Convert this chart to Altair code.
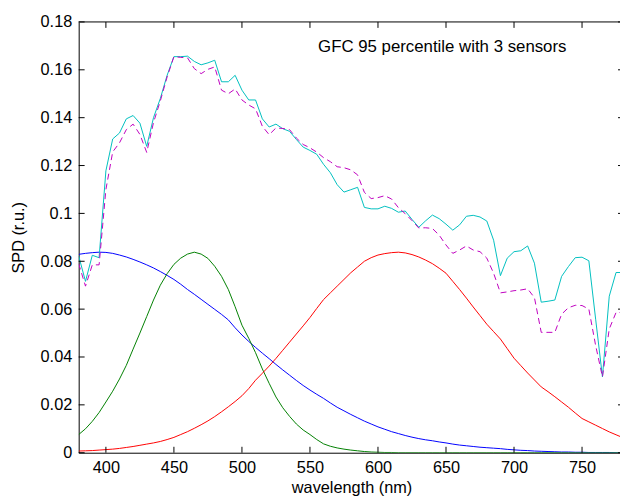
import altair as alt
import pandas as pd

# ---- data ----
wl5 = list(range(380, 781, 5))
cyan_spd = [0.0822, 0.0716, 0.0825, 0.0815, 0.1178, 0.1311, 0.1336, 0.1395, 0.1409, 0.1377,
            0.1280, 0.1400, 0.1480, 0.1577, 0.1655, 0.1655, 0.1657, 0.1635, 0.1621, 0.1629,
            0.1640, 0.1550, 0.1550, 0.1577, 0.1515, 0.1474, 0.1474, 0.1395, 0.1361, 0.1373,
            0.1354, 0.1343, 0.1309, 0.1277, 0.1263, 0.1247, 0.1205, 0.1170, 0.1120, 0.1089,
            0.1099, 0.1109, 0.1025, 0.1019, 0.1019, 0.1030, 0.1021, 0.1005, 0.1010, 0.0975,
            0.0942, 0.0969, 0.0993, 0.0978, 0.0955, 0.0930, 0.0952, 0.0988, 0.0992, 0.0985,
            0.0968, 0.0888, 0.0740, 0.0813, 0.0840, 0.0844, 0.0864, 0.0792, 0.0629, 0.0633,
            0.0638, 0.0737, 0.0778, 0.0815, 0.0817, 0.0802, 0.0558, 0.0317, 0.0654, 0.0753,
            0.0753]
magenta_spd = [0.0790, 0.0696, 0.0785, 0.0785, 0.1100, 0.1257, 0.1295, 0.1350, 0.1373, 0.1330,
               0.1255, 0.1380, 0.1470, 0.1570, 0.1655, 0.1652, 0.1650, 0.1605, 0.1584, 0.1602,
               0.1612, 0.1515, 0.1500, 0.1520, 0.1474, 0.1453, 0.1437, 0.1364, 0.1329, 0.1357,
               0.1355, 0.1350, 0.1315, 0.1288, 0.1274, 0.1256, 0.1233, 0.1216, 0.1195, 0.1191,
               0.1182, 0.1161, 0.1088, 0.1062, 0.1066, 0.1074, 0.1060, 0.1024, 0.0999, 0.0970,
               0.0939, 0.0940, 0.0937, 0.0909, 0.0868, 0.0833, 0.0847, 0.0864, 0.0847, 0.0840,
               0.0813, 0.0750, 0.0668, 0.0672, 0.0677, 0.0680, 0.0685, 0.0648, 0.0503, 0.0503,
               0.0503, 0.0579, 0.0606, 0.0616, 0.0615, 0.0600, 0.0448, 0.0317, 0.0517, 0.0586,
               0.0586]

# sensor sensitivities (scaled), read at 5 nm
blue_sens = [0.0829, 0.0833, 0.0836, 0.0838, 0.0837, 0.0833, 0.0826, 0.0818, 0.0808, 0.0797,
             0.0785, 0.0772, 0.0757, 0.0741, 0.0724, 0.0704, 0.0682, 0.0662, 0.0641, 0.0620,
             0.0599, 0.0578, 0.0555, 0.0522, 0.0492, 0.0465, 0.0440, 0.0416, 0.0393, 0.0369,
             0.0346, 0.0324, 0.0302, 0.0281, 0.0262, 0.0244, 0.0227, 0.0208, 0.0190, 0.0175,
             0.0160, 0.0146, 0.0132, 0.0120, 0.0108, 0.0098, 0.0088, 0.0080, 0.0072, 0.0065,
             0.0059, 0.0054, 0.0050, 0.0045, 0.0041, 0.0036, 0.0032, 0.0029, 0.0026, 0.0023,
             0.0021, 0.0019, 0.0017, 0.0014, 0.0012, 0.0010, 0.0009, 0.0007, 0.0006, 0.0005,
             0.0004, 0.0003, 0.0003, 0.0002, 0.0002, 0.0001, 0.0001, 0.0001, 0.0001, 0.0000,
             0.0000]
green_sens = [0.0076, 0.0100, 0.0131, 0.0168, 0.0212, 0.0257, 0.0308, 0.0365, 0.0433, 0.0500,
              0.0569, 0.0638, 0.0700, 0.0748, 0.0787, 0.0813, 0.0830, 0.0838, 0.0830, 0.0812,
              0.0779, 0.0737, 0.0682, 0.0610, 0.0533, 0.0478, 0.0418, 0.0350, 0.0290, 0.0233,
              0.0188, 0.0152, 0.0120, 0.0095, 0.0076, 0.0055, 0.0037, 0.0027, 0.0020, 0.0015,
              0.0011, 0.0008, 0.0005, 0.0003, 0.0002, 0.0001, 0.0001, 0.0, 0.0, 0.0,
              0.0, 0.0, 0.0, 0.0, 0.0, 0.0, 0.0, 0.0, 0.0, 0.0,
              0.0, 0.0, 0.0, 0.0, 0.0, 0.0, 0.0, 0.0, 0.0, 0.0,
              0.0, 0.0, 0.0, 0.0, 0.0, 0.0, 0.0, 0.0, 0.0, 0.0,
              0.0]
red_sens = [0.0007, 0.0008, 0.0009, 0.0011, 0.0013, 0.0015, 0.0018, 0.0022, 0.0026, 0.0031,
            0.0036, 0.0041, 0.0047, 0.0055, 0.0064, 0.0076, 0.0088, 0.0102, 0.0117, 0.0133,
            0.0151, 0.0171, 0.0192, 0.0214, 0.0238, 0.0268, 0.0303, 0.0332, 0.0362, 0.0394,
            0.0428, 0.0462, 0.0496, 0.0530, 0.0565, 0.0603, 0.0640, 0.0668, 0.0696, 0.0724,
            0.0752, 0.0776, 0.0800, 0.0815, 0.0826, 0.0832, 0.0836, 0.0838, 0.0835, 0.0828,
            0.0818, 0.0805, 0.0790, 0.0771, 0.0750, 0.0716, 0.0682, 0.0646, 0.0609, 0.0573,
            0.0537, 0.0506, 0.0475, 0.0435, 0.0395, 0.0364, 0.0333, 0.0304, 0.0275, 0.0255,
            0.0234, 0.0212, 0.0190, 0.0166, 0.0143, 0.0129, 0.0115, 0.0101, 0.0087, 0.0075,
            0.0063]

x_ticks = [400, 450, 500, 550, 600, 650, 700, 750]
y_ticks = [0, 0.02, 0.04, 0.06, 0.08, 0.10, 0.12, 0.14, 0.16, 0.18]
annotation = "GFC 95 percentile with 3 sensors"
annot_wl = 556
annot_v = 0.1693

# ---- layout ----
W = 547.5
H = 435.7
FONT = "Liberation Sans"
TICK = 6

xscale = alt.Scale(domain=[380, 777.9], nice=False, zero=False)
yscale = alt.Scale(domain=[0, 0.18], nice=False, zero=False)

df_c = pd.DataFrame({"wl": wl5, "v": cyan_spd})
df_m = pd.DataFrame({"wl": wl5, "v": magenta_spd})
df_b = pd.DataFrame({"wl": wl5, "v": blue_sens})
df_g = pd.DataFrame({"wl": wl5, "v": green_sens})
df_r = pd.DataFrame({"wl": wl5, "v": red_sens})
df_xt = pd.DataFrame({"wl": x_ticks})
df_yt = pd.DataFrame({"v": y_ticks})
df_txt = pd.DataFrame({"wl": [annot_wl], "v": [annot_v], "label": [annotation]})

x_axis = alt.Axis(values=x_ticks, format="d", ticks=False, grid=False,
                  labelPadding=7, labelFontSize=16.5, titleFontSize=16.5,
                  titleX=276, titleY=40, titleBaseline="alphabetic",
                  domainColor="black", domainWidth=1)
y_axis = alt.Axis(values=y_ticks, format=".2~f", ticks=False, grid=False,
                  labelPadding=7, labelFontSize=16.5, titleFontSize=16.5,
                  titleX=-61, titleY=H / 2, titleAngle=270, titleBaseline="middle",
                  domainColor="black", domainWidth=1)

X = alt.X("wl:Q", scale=xscale, title="wavelength (nm)", axis=x_axis)
Y = alt.Y("v:Q", scale=yscale, title="SPD (r.u.)", axis=y_axis)

blue = alt.Chart(df_b).mark_line(color="#0000FF", strokeWidth=1, clip=True).encode(x=X, y=Y)
green = alt.Chart(df_g).mark_line(color="#008000", strokeWidth=1, clip=True).encode(x=X, y=Y)
red = alt.Chart(df_r).mark_line(color="#FF0000", strokeWidth=1, clip=True).encode(x=X, y=Y)
cyan = alt.Chart(df_c).mark_line(color="#00BFBF", strokeWidth=1, clip=True).encode(x=X, y=Y)
magenta = alt.Chart(df_m).mark_line(color="#BF00BF", strokeWidth=1, strokeDash=[6, 4], clip=True).encode(
    x=X, y=Y)

# frame: top border and inward ticks (MATLAB box style)
top_border = alt.Chart(df_txt).mark_rule(color="black", strokeWidth=1).encode(
    x=alt.value(0), x2=alt.value(W), y=alt.value(0))
bottom_ticks = alt.Chart(df_xt).mark_rule(color="black", strokeWidth=1).encode(
    x=X, y=alt.value(H), y2=alt.value(H - TICK))
top_ticks = alt.Chart(df_xt).mark_rule(color="black", strokeWidth=1).encode(
    x=X, y=alt.value(0), y2=alt.value(TICK))
left_ticks = alt.Chart(df_yt).mark_rule(color="black", strokeWidth=1).encode(
    y=Y, x=alt.value(0), x2=alt.value(TICK))
right_ticks = alt.Chart(df_yt).mark_rule(color="black", strokeWidth=1).encode(
    y=Y, x=alt.value(W - 2), x2=alt.value(W))

label = alt.Chart(df_txt).mark_text(align="left", baseline="middle", font=FONT, fontSize=17,
                                     color="black").encode(x=X, y=Y, text="label:N")

chart = alt.layer(
    blue, green, red, cyan, magenta,
    top_border, bottom_ticks, top_ticks, left_ticks, right_ticks, label
).properties(
    width=W, height=H,
    autosize=alt.AutoSizeParams(type="none"),
    padding={"left": 71.5, "top": 11.3, "right": 0, "bottom": 44},
    background="white",
).configure_view(
    stroke="transparent"
).configure_axis(
    labelFont=FONT, titleFont=FONT, labelColor="black", titleColor="black",
    titleFontWeight="normal"
)

chart.save("out.html", embed_options={"renderer": "svg", "actions": False})
